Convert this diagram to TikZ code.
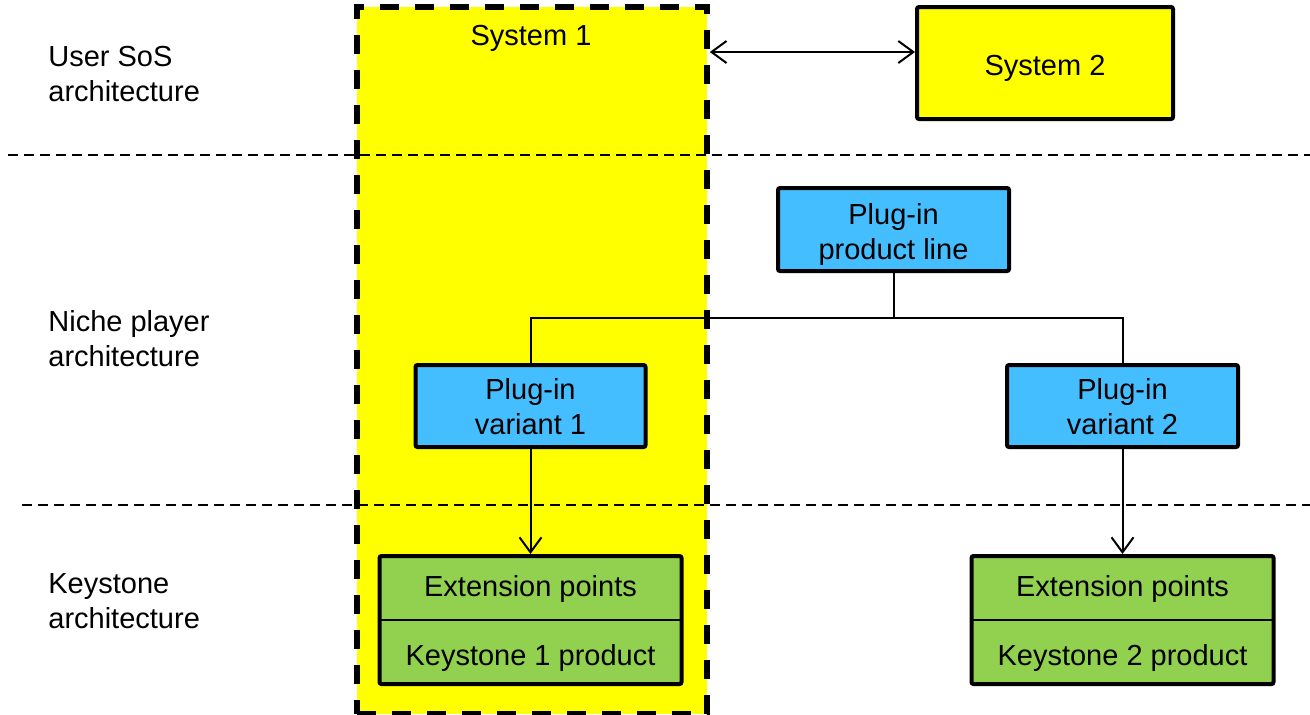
\documentclass[tikz,border=0pt]{standalone}
\usepackage{fontspec}
\setmainfont{Liberation Sans}
\usetikzlibrary{arrows.meta,positioning}
\definecolor{sysyellow}{RGB}{255,255,0}
\definecolor{plugblue}{RGB}{69,190,255}
\definecolor{keygreen}{RGB}{146,208,80}

\begin{document}
\begin{tikzpicture}[x=0.5pt,y=-0.5pt,
	font=\fontsize{14.5}{17.5}\selectfont,
	box/.style={draw,line width=2pt,rounded corners=1pt,align=center,inner sep=0pt},
	plugbox/.style={box,fill=plugblue,minimum width=115pt,minimum height=41pt,text height=28pt,text depth=0pt},
	keypart/.style={fill=keygreen,minimum width=151pt,minimum height=32pt,inner sep=0pt,outer sep=0pt,text depth=0pt},
	sepline/.style={dash pattern=on 5pt off 3pt,line width=0.75pt},
	conn/.style={line width=1pt},
	tip/.style={conn,-{Straight Barb[length=7.5pt,width=11pt]}},
	lbl/.style={anchor=west,align=left,inner sep=0pt}]
\useasboundingbox (0,0) rectangle (1310,714);

\node[draw,fill=sysyellow,line width=2.8pt,dash pattern=on 9.5pt off 8pt,minimum width=175pt,minimum height=353.5pt] (S1) at (532,360.5) {};
\node (S1t) at (531,38) {System 1};
\node[box,fill=sysyellow,minimum width=128pt,minimum height=56pt,text height=12pt,text depth=0pt] (S2) at (1045,63) {System 2};

\draw[sepline] (8,155) -- (1310,155);
\draw[sepline] (22,505) -- (1310,505);

\node[lbl] (L1) at (48,74) {User SoS\\architecture};
\node[lbl] (L2) at (48,339) {Niche player\\architecture};
\node[lbl] (L3) at (48,601) {Keystone\\architecture};

\node[plugbox,minimum width=115.5pt,minimum height=41.5pt,text height=29.5pt] (PL) at (893.5,229.5) {Plug-in\\product line};
\node[plugbox] (V1) at (530.5,406) {Plug-in\\variant 1};
\node[plugbox,minimum width=115.5pt] (V2) at (1122.5,406) {Plug-in\\variant 2};

\node[keypart,text height=8pt] (K1e) at (530.5,588) {Extension points};
\node[keypart,text height=13pt,below=0pt of K1e] (K1p) {Keystone 1 product};
\draw[line width=2pt,rounded corners=1pt] (K1e.north west) rectangle (K1p.south east);
\draw[conn] (K1e.south west) -- (K1e.south east);

\node[keypart,text height=8pt] (K2e) at (1122.5,588) {Extension points};
\node[keypart,text height=13pt,below=0pt of K2e] (K2p) {Keystone 2 product};
\draw[line width=2pt,rounded corners=1pt] (K2e.north west) rectangle (K2p.south east);
\draw[conn] (K2e.south west) -- (K2e.south east);

\coordinate (jn) at (893.5,318);
\draw[conn] (PL.south) -- (jn);
\draw[conn] (V1.north) |- (jn) -| (V2.north);
\draw[tip,shorten >=1pt] (V1.south) -- (K1e.north);
\draw[tip,shorten >=1pt] (V2.south) -- (K2e.north);
\draw[conn,{Straight Barb[length=7.5pt,width=11pt]}-{Straight Barb[length=7.5pt,width=11pt]}] (S1.east |- 0,52) -- (S2.west |- 0,52);
\end{tikzpicture}
\end{document}
